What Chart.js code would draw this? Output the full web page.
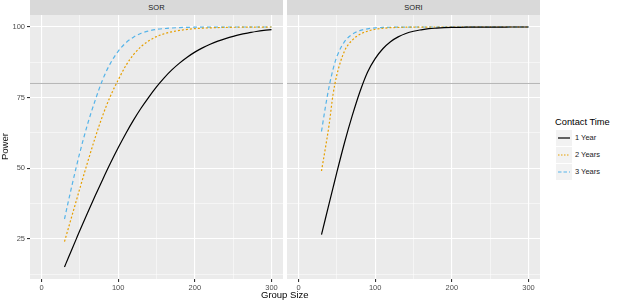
<!DOCTYPE html>
<html>
<head>
<meta charset="utf-8">
<script src="https://cdn.jsdelivr.net/npm/chart.js@4"></script>
<style>
  body { margin: 0; background: #fff; font-family: "Liberation Sans", Arial, sans-serif; }
  #wrap { position: relative; width: 617px; height: 304px; overflow: hidden; }
  .box { position: absolute; }
  .strip { position: absolute; top: 0; height: 15px; background: #d9d9d9; color: #1a1a1a;
           font-size: 7.5px; line-height: 15px; text-align: center; }
  .lab { position: absolute; white-space: nowrap; }
  .key { position: absolute; left: 556px; width: 16px; height: 16px; }
  .ktxt { position: absolute; left: 575px; font-size: 7.5px; color: #1a1a1a; }
</style>
</head>
<body>
<div id="wrap">
  <div class="strip" style="left:30px;width:253px;">SOR</div>
  <div class="strip" style="left:287px;width:253px;">SORI</div>
  <div class="box" style="left:0;top:15px;width:283px;height:289px;"><canvas id="c1"></canvas></div>
  <div class="box" style="left:287px;top:15px;width:253px;height:289px;"><canvas id="c2"></canvas></div>
  <div class="lab" style="left:261px;top:289px;font-size:9.5px;color:#000;">Group Size</div>
  <div class="lab" style="left:-9px;top:141px;font-size:9.5px;color:#000;transform:rotate(-90deg);">Power</div>
  <div class="lab" style="left:555px;top:117px;font-size:9.3px;color:#000;">Contact Time</div>
  <svg class="key" style="top:130px;" width="16" height="16"><rect width="16" height="16" fill="#f2f2f2"/><line x1="2" y1="8" x2="14" y2="8" stroke="#000" stroke-width="1.2"/></svg>
  <div class="ktxt" style="top:133px;">1 Year</div>
  <svg class="key" style="top:147px;" width="16" height="16"><rect width="16" height="16" fill="#f2f2f2"/><line x1="2" y1="8" x2="14" y2="8" stroke="#E69F00" stroke-width="1.2" stroke-dasharray="1.5,1.5"/></svg>
  <div class="ktxt" style="top:150px;">2 Years</div>
  <svg class="key" style="top:164px;" width="16" height="16"><rect width="16" height="16" fill="#f2f2f2"/><line x1="2" y1="8" x2="14" y2="8" stroke="#56B4E9" stroke-width="1.2" stroke-dasharray="3.5,2"/></svg>
  <div class="ktxt" style="top:167px;">3 Years</div>
</div>
<script>
var groupSize = [30,35,40,45,50,60,70,80,90,100,110,120,130,140,150,160,170,180,190,200,210,220,230,240,250,260,270,280,290,300];

var sor1Year  = [15,18.3,21.5,24.7,27.9,34.1,40.2,46.1,51.8,57.2,62.3,67,71.3,75.2,78.8,82,84.8,87.2,89.3,91.1,92.6,93.9,95,95.9,96.7,97.4,97.9,98.4,98.8,99.1];
var sor2Years = [24,28.7,33.4,38.1,42.8,52,60.8,68.8,75.6,81.2,86.3,90.2,93.1,95.1,96.6,97.6,98.3,98.8,99.15,99.4,99.58,99.7,99.8,99.86,99.9,99.93,99.95,99.97,99.98,100];
var sor3Years = [32,38.2,44.2,50,55.5,65.5,74,81.5,87.2,91.4,94.4,96.4,97.8,98.6,99.15,99.45,99.65,99.8,99.88,99.93,99.96,99.98,99.99,99.99,100,100,100,100,100,100];

var sori1Year  = [26.5,32,37.5,43,48.5,59,68.5,77,84,88.8,92.3,94.8,96.5,97.7,98.5,99,99.4,99.6,99.75,99.85,99.9,99.94,99.96,99.97,99.98,99.99,99.99,100,100,100];
var sori2Years = [49,57,65.5,76,83,91.5,95.3,97.4,98.5,99.2,99.55,99.75,99.87,99.93,99.96,99.98,99.99,100,100,100,100,100,100,100,100,100,100,100,100,100];
var sori3Years = [63,71.5,79,85,89.5,94.8,97.4,98.7,99.35,99.68,99.84,99.92,99.96,99.98,99.99,100,100,100,100,100,100,100,100,100,100,100,100,100,100,100];

var targetPower = 80;
var xTicks = [0,50,100,150,200,250,300];
var xLabels = [0,100,200,300];
var yTicks = [12.5,25,37.5,50,62.5,75,87.5,100];
var yLabels = [25,50,75,100];

function pts(ys) {
	return groupSize.map(function(x, i) { return {x: x, y: ys[i]}; });
}

var panelBg = {
	id: 'panelBg',
	beforeDraw: function(chart) {
		var a = chart.chartArea, ctx = chart.ctx;
		ctx.save();
		ctx.fillStyle = '#ebebeb';
		ctx.fillRect(a.left, a.top, a.right - a.left, a.bottom - a.top);
		ctx.restore();
	}
};

function makeChart(id, s1, s2, s3, showY) {
	var isMajorX = function(v) { return xLabels.indexOf(v) >= 0; };
	var isMajorY = function(v) { return yLabels.indexOf(v) >= 0; };
	return new Chart(document.getElementById(id), {
		type: 'line',
		data: {
			datasets: [
				{ data: pts(s1), borderColor: '#000000', borderWidth: 1.2, order: 1 },
				{ data: pts(s2), borderColor: '#E69F00', borderWidth: 1.2, borderDash: [2, 2], order: 2 },
				{ data: pts(s3), borderColor: '#56B4E9', borderWidth: 1.2, borderDash: [4, 3], order: 3 },
				{ data: [{x: -15, y: targetPower}, {x: 315, y: targetPower}], borderColor: '#b5b5b5', borderWidth: 1, order: 10 }
			]
		},
		options: {
			responsive: true,
			maintainAspectRatio: false,
			animation: false,
			layout: { padding: 0 },
			elements: { point: { radius: 0 }, line: { tension: 0, cubicInterpolationMode: 'monotone', fill: false } },
			plugins: { legend: { display: false }, tooltip: { enabled: false } },
			scales: {
				x: {
					type: 'linear', min: -15, max: 315,
					border: { display: false },
					afterBuildTicks: function(scale) { scale.ticks = xTicks.map(function(v) { return {value: v}; }); },
					afterFit: function(scale) { scale.height = 25; scale.paddingLeft = 0; scale.paddingRight = 0; },
					grid: {
						color: '#ffffff',
						lineWidth: function(c) { return isMajorX(c.tick.value) ? 1.1 : 0.5; },
						tickColor: function(c) { return isMajorX(c.tick.value) ? '#333333' : 'rgba(0,0,0,0)'; },
						tickLength: 3
					},
					ticks: {
						padding: 1, color: '#4d4d4d', font: { family: 'Liberation Sans', size: 7.5 },
						maxRotation: 0, autoSkip: false,
						callback: function(v) { return isMajorX(v) ? String(v) : ''; }
					}
				},
				y: {
					type: 'linear', min: 10.75, max: 104.25,
					border: { display: false },
					afterBuildTicks: function(scale) { scale.ticks = yTicks.map(function(v) { return {value: v}; }); },
					afterFit: function(scale) { scale.width = showY ? 30 : 0; scale.paddingTop = 0; scale.paddingBottom = 0; },
					grid: {
						color: '#ffffff',
						lineWidth: function(c) { return isMajorY(c.tick.value) ? 1.1 : 0.5; },
						tickColor: function(c) { return isMajorY(c.tick.value) ? '#333333' : 'rgba(0,0,0,0)'; },
						tickLength: 3,
						drawTicks: showY
					},
					ticks: {
						display: showY, padding: 2, color: '#4d4d4d', font: { family: 'Liberation Sans', size: 7.5 },
						autoSkip: false,
						callback: function(v) { return isMajorY(v) ? String(v) : ''; }
					}
				}
			}
		},
		plugins: [panelBg]
	});
}

makeChart('c1', sor1Year, sor2Years, sor3Years, true);
makeChart('c2', sori1Year, sori2Years, sori3Years, false);
</script>
</body>
</html>
